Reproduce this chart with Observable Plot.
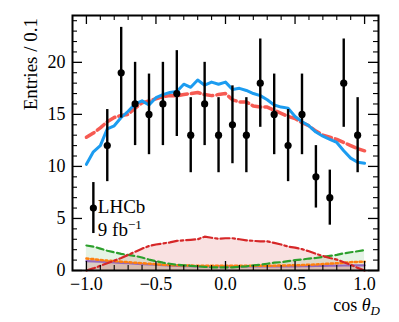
<!DOCTYPE html>
<html><head><meta charset="utf-8">
<script src="https://cdn.jsdelivr.net/npm/d3@7"></script>
<script src="https://cdn.jsdelivr.net/npm/@observablehq/plot@0.6"></script>
<style>body{margin:0;background:#fff}</style>
</head><body><div id="chart"></div>
<script>
// data bins (width 0.1)
const binCenters = [-0.95,-0.85,-0.75,-0.65,-0.55,-0.45,-0.35,-0.25,-0.15,-0.05,0.05,0.15,0.25,0.35,0.45,0.55,0.65,0.75,0.85,0.95];
const counts = [6,12,19,16,15,16,17,13,16,13,14,13,18,15,12,15,9,7,18,13];

// fit curves sampled on a fine grid
const curveX = [-1.00,-0.95,-0.90,-0.85,-0.80,-0.75,-0.70,-0.65,-0.60,-0.55,-0.50,-0.45,-0.40,-0.35,-0.30,-0.25,-0.20,-0.15,-0.10,-0.05,0.00,0.05,0.10,0.15,0.20,0.25,0.30,0.35,0.40,0.45,0.50,0.55,0.60,0.65,0.70,0.75,0.80,0.85,0.90,0.95,1.00];
const fitTotal = [10.2,11.4,12.0,13.6,13.9,14.7,15.3,16.0,16.3,15.9,16.6,16.9,17.1,17.2,17.9,17.6,18.3,17.8,18.1,17.9,18.1,17.4,17.5,17.3,17.0,16.8,16.4,15.9,15.7,15.6,14.8,14.3,13.9,13.3,12.9,12.6,12.3,11.5,10.8,10.4,10.3];
const fitAlt = [12.8,13.2,13.7,14.3,14.7,14.9,15.0,15.6,16.1,16.3,16.5,16.7,16.8,16.8,16.9,17.0,17.1,16.9,16.8,16.9,17.0,16.4,16.2,16.2,15.8,15.7,15.7,15.4,15.1,14.8,14.6,14.2,13.9,13.4,13.0,12.8,12.6,12.3,12.0,11.7,11.5];
const compRed = [0.0,0.2,0.45,0.7,0.95,1.2,1.5,1.8,2.1,2.35,2.5,2.6,2.7,2.85,2.9,2.95,3.0,3.25,3.15,3.05,3.1,3.1,3.0,2.9,2.85,2.8,2.8,2.65,2.5,2.3,2.2,2.05,1.85,1.6,1.4,1.2,1.05,0.8,0.55,0.25,0.0];
const compGreen = [2.4,2.3,2.1,1.9,1.75,1.6,1.5,1.4,1.25,1.05,0.9,0.75,0.65,0.55,0.5,0.45,0.4,0.35,0.3,0.3,0.3,0.3,0.35,0.4,0.5,0.55,0.65,0.75,0.8,0.9,1.0,1.05,1.15,1.2,1.3,1.4,1.5,1.65,1.75,1.85,1.95];
const compOrange = [1.15,1.1,1.0,0.95,0.9,0.85,0.8,0.75,0.7,0.65,0.6,0.55,0.52,0.5,0.48,0.47,0.46,0.45,0.45,0.45,0.45,0.45,0.45,0.45,0.45,0.45,0.45,0.46,0.48,0.49,0.5,0.52,0.55,0.58,0.62,0.66,0.7,0.75,0.8,0.83,0.85];
const compPurple = [0.9,0.88,0.85,0.82,0.78,0.74,0.7,0.66,0.62,0.58,0.55,0.51,0.48,0.45,0.42,0.41,0.4,0.4,0.4,0.4,0.4,0.4,0.4,0.4,0.4,0.4,0.4,0.4,0.4,0.4,0.4,0.41,0.42,0.43,0.45,0.46,0.47,0.48,0.5,0.5,0.5];

// ticks
const xMajor = [-1,-0.5,0,0.5,1];
const xMinor = [-0.9,-0.8,-0.7,-0.6,-0.4,-0.3,-0.2,-0.1,0.1,0.2,0.3,0.4,0.6,0.7,0.8,0.9];
const yMajor = [0,5,10,15,20];
const yMinor = [1,2,3,4,6,7,8,9,11,12,13,14,16,17,18,19,21,22,23,24];

const points = binCenters.map((x,i)=>({x, n: counts[i]}));
const curves = curveX.map((x,i)=>({x, total: fitTotal[i], alt: fitAlt[i], red: compRed[i], green: compGreen[i], orange: compOrange[i], purple: compPurple[i]}));

const W = 399, H = 322, mL = 72, mR = 21, mT = 15, mB = 52;
const pw = W - mL - mR, ph = H - mT - mB;
const font = "'Liberation Serif', 'DejaVu Serif', serif";

const plot = Plot.plot({
  width: W, height: H,
  marginLeft: mL, marginRight: mR, marginTop: mT, marginBottom: mB,
  style: {fontFamily: font, fontSize: "18px", background: "#fff", color: "#000"},
  x: {domain: [-1.1, 1.1], label: null},
  y: {domain: [0, 24.5], label: null},
  marks: [
    Plot.areaY(curves, {x: "x", y1: 0, y2: "red", fill: "#d62728", fillOpacity: 0.14}),
    Plot.areaY(curves, {x: "x", y1: 0, y2: "green", fill: "#2ca02c", fillOpacity: 0.12}),
    Plot.areaY(curves, {x: "x", y1: 0, y2: "orange", fill: "#ff7f0e", fillOpacity: 0.15}),
    Plot.areaY(curves, {x: "x", y1: 0, y2: "purple", fill: "#9467bd", fillOpacity: 0.15}),
    Plot.lineY(curves, {x: "x", y: "purple", stroke: "#9467bd", strokeWidth: 2.2}),
    Plot.lineY(curves, {x: "x", y: "orange", stroke: "#ff7f0e", strokeWidth: 2.5, strokeDasharray: "2.2,2.6"}),
    Plot.lineY(curves, {x: "x", y: "green", stroke: "#2ca02c", strokeWidth: 2.2, strokeDasharray: "7,3.5"}),
    Plot.lineY(curves, {x: "x", y: "red", stroke: "#d62728", strokeWidth: 2.2, strokeDasharray: "9,3,2.5,3"}),
    Plot.lineY(curves, {x: "x", y: "alt", stroke: "#f65a52", strokeWidth: 3.5, strokeDasharray: "9,4"}),
    Plot.lineY(curves, {x: "x", y: "total", stroke: "#1c9cf0", strokeWidth: 3}),
    Plot.ruleX(points, {x: "x", y1: d => d.n - Math.sqrt(d.n), y2: d => d.n + Math.sqrt(d.n), stroke: "#000", strokeWidth: 2.4}),
    Plot.dot(points, {x: "x", y: "n", r: 3.6, fill: "#000"}),
    // inward ticks on all sides
    Plot.tickX(xMajor, {x: d => d, insetTop: ph - 9, stroke: "#000", strokeWidth: 1.3}),
    Plot.tickX(xMinor, {x: d => d, insetTop: ph - 5, stroke: "#000", strokeWidth: 1.1}),
    Plot.tickX(xMajor, {x: d => d, insetBottom: ph - 9, stroke: "#000", strokeWidth: 1.3}),
    Plot.tickX(xMinor, {x: d => d, insetBottom: ph - 5, stroke: "#000", strokeWidth: 1.1}),
    Plot.tickY(yMajor, {y: d => d, insetRight: pw - 10, stroke: "#000", strokeWidth: 1.3}),
    Plot.tickY(yMinor, {y: d => d, insetRight: pw - 5, stroke: "#000", strokeWidth: 1.1}),
    Plot.tickY(yMajor, {y: d => d, insetLeft: pw - 10, stroke: "#000", strokeWidth: 1.3}),
    Plot.tickY(yMinor, {y: d => d, insetLeft: pw - 5, stroke: "#000", strokeWidth: 1.1}),
    Plot.axisX({ticks: xMajor, tickSize: 0, tickPadding: 7, tickFormat: d3.format(".1f"), label: null}),
    Plot.axisY({ticks: yMajor, tickSize: 0, tickPadding: 7, tickFormat: d3.format("d"), label: null}),
    Plot.frame({stroke: "#000", strokeWidth: 2})
  ]
});
document.getElementById("chart").appendChild(plot);

const svg = d3.select(plot);
const sx = plot.scale("x");
// y label
svg.append("text")
  .attr("transform", `translate(37,${mT + 3}) rotate(-90)`)
  .attr("text-anchor", "end")
  .attr("font-family", font).attr("font-size", 19)
  .text("Entries / 0.1");
// x label
const xl = svg.append("text")
  .attr("x", W - mR + 2).attr("y", 311)
  .attr("text-anchor", "end")
  .attr("font-family", font).attr("font-size", 18);
xl.append("tspan").text("cos ");
xl.append("tspan").attr("font-style", "italic").text("θ");
xl.append("tspan").attr("font-style", "italic").attr("font-size", 13).attr("dy", 4).text("D");
// LHCb label
const lx = sx.apply(-0.95) + 5;
svg.append("text").attr("x", lx).attr("y", 213).attr("text-anchor", "start")
  .attr("font-family", font).attr("font-size", 19).text("LHCb");
const t2 = svg.append("text").attr("x", lx).attr("y", 236).attr("text-anchor", "start")
  .attr("font-family", font).attr("font-size", 19);
t2.append("tspan").text("9 fb");
t2.append("tspan").attr("font-size", 13).attr("dy", -7).text("−1");
</script>
</body></html>
